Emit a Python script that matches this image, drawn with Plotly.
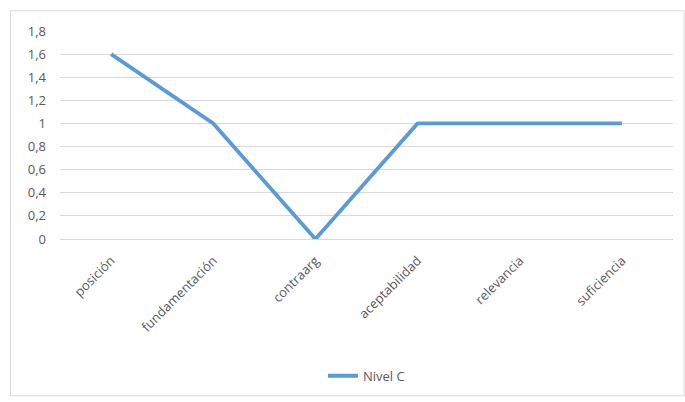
import plotly.graph_objects as go

categorias = ["posición", "fundamentación", "contraarg", "aceptabilidad", "relevancia", "suficiencia"]
nivel_c = [1.6, 1.0, 0.0, 1.0, 1.0, 1.0]
y_ticks = [0, 0.2, 0.4, 0.6, 0.8, 1.0, 1.2, 1.4, 1.6, 1.8]
y_tick_labels = ["0", "0,2", "0,4", "0,6", "0,8", "1", "1,2", "1,4", "1,6", "1,8"]

fig = go.Figure()
fig.add_trace(go.Scatter(
    x=categorias, y=nivel_c, mode="lines", name="Nivel C",
    line=dict(color="#5B9BD5", width=3.8),
))

W, H = 685, 402
L, R, T, B = 60, 12, 31, 160
pw, ph = W - L - R, H - T - B

def px_x(x):
    return (x - L) / pw

def px_y(y):
    return (H - B - y) / ph

fig.update_layout(
    width=W, height=H,
    margin=dict(l=L, r=R, t=T, b=B),
    paper_bgcolor="white", plot_bgcolor="white",
    font=dict(family="Open Sans, Lato, sans-serif", size=13, color="#595959"),
    showlegend=True,
    legend=dict(orientation="h", x=0.5, xanchor="center", y=px_y(396), yanchor="bottom",
                font=dict(size=13, color="#595959")),
    xaxis=dict(range=[-0.5, len(categorias) - 0.5], tickangle=-45, showgrid=False,
               showline=True, linecolor="#D9D9D9", linewidth=1, ticks="",
               ticklabelstandoff=8, tickfont=dict(size=13, color="#595959")),
    yaxis=dict(range=[0, 1.8], tickvals=y_ticks, ticktext=y_tick_labels,
               showgrid=True, gridcolor="#D9D9D9", gridwidth=1, zeroline=False,
               showline=False, ticks="", ticklen=0, ticklabelstandoff=13,
               tickfont=dict(size=13, color="#595959")),
    shapes=[dict(type="rect", xref="paper", yref="paper",
                 x0=px_x(10.5), x1=px_x(684), y0=px_y(401), y1=px_y(10.5),
                 line=dict(color="#D9D9D9", width=1), fillcolor="rgba(0,0,0,0)",
                 layer="below")],
)

fig.write_html("out.html")
